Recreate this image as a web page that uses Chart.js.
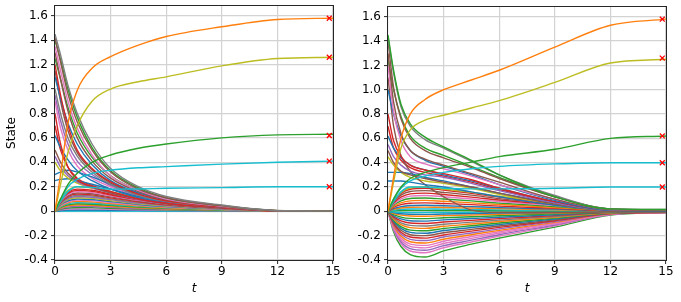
<!DOCTYPE html>
<html>
<head>
<meta charset="utf-8">
<script src="https://cdn.jsdelivr.net/npm/chart.js@4.4.1/dist/chart.umd.min.js"></script>
<style>
  body { margin: 0; background: #fff; }
  #wrap { position: relative; width: 681px; height: 302px; }
  #left { position: absolute; left: 0; top: 0; width: 340px; height: 302px; }
  #right { position: absolute; left: 340px; top: 0; width: 341px; height: 302px; }
</style>
</head>
<body>
<div id="wrap">
  <canvas id="left" width="340" height="302"></canvas>
  <canvas id="right" width="341" height="302"></canvas>
</div>
<script>
// sample times shared by every trajectory
var times = [0, 0.3, 0.7, 1.2, 2, 3, 4.5, 6, 9, 12, 15];
var xTicks = [0, 3, 6, 9, 12, 15];
var yTicks = [-0.4, -0.2, 0, 0.2, 0.4, 0.6, 0.8, 1.0, 1.2, 1.4, 1.6];
var markT = 14.8;
var leftFinal = [1.58, 1.26, 0.62, 0.41, 0.20];
var rightFinal = [1.58, 1.26, 0.62, 0.40, 0.20];

// left panel: the five trajectories that settle away from zero
var leftMain = [
  [0, 0.30, 0.72, 0.99, 1.17, 1.265, 1.36, 1.43, 1.51, 1.57, 1.58],
  [0, 0.22, 0.48, 0.70, 0.90, 1.00, 1.06, 1.10, 1.19, 1.25, 1.26],
  [0, 0.10, 0.22, 0.31, 0.40, 0.46, 0.515, 0.55, 0.60, 0.625, 0.63],
  [0, 0.09, 0.20, 0.26, 0.31, 0.335, 0.355, 0.365, 0.385, 0.40, 0.41],
  [0, 0.08, 0.16, 0.20, 0.195, 0.18, 0.182, 0.187, 0.193, 0.20, 0.20]
];
// left panel: trajectories decaying from a nonzero start
var leftDecay = [
  [1.45, 1.28, 1.03, 0.80, 0.55, 0.35, 0.20, 0.12, 0.05, 0.005, 0],
  [1.42, 1.22, 0.96, 0.73, 0.50, 0.32, 0.18, 0.11, 0.045, 0.004, 0],
  [1.40, 1.24, 1.00, 0.77, 0.52, 0.33, 0.19, 0.11, 0.045, 0.004, 0],
  [1.35, 1.15, 0.90, 0.68, 0.46, 0.29, 0.17, 0.10, 0.04, 0.003, 0],
  [1.30, 1.08, 0.82, 0.60, 0.41, 0.27, 0.16, 0.095, 0.04, 0.003, 0],
  [1.20, 0.95, 0.70, 0.50, 0.35, 0.24, 0.14, 0.085, 0.035, 0.003, 0],
  [1.10, 0.92, 0.72, 0.55, 0.38, 0.25, 0.15, 0.09, 0.035, 0.003, 0],
  [1.00, 0.80, 0.60, 0.45, 0.32, 0.22, 0.13, 0.08, 0.033, 0.003, 0],
  [0.80, 0.55, 0.36, 0.26, 0.20, 0.16, 0.10, 0.065, 0.028, 0.002, 0],
  [0.62, 0.52, 0.42, 0.33, 0.25, 0.18, 0.11, 0.07, 0.03, 0.002, 0],
  [0.50, 0.40, 0.31, 0.25, 0.20, 0.15, 0.10, 0.06, 0.025, 0.002, 0],
  [0.45, 0.36, 0.29, 0.24, 0.19, 0.15, 0.095, 0.06, 0.025, 0.002, 0],
  [0.40, 0.33, 0.27, 0.23, 0.19, 0.15, 0.10, 0.062, 0.025, 0.002, 0],
  [0.30, 0.32, 0.335, 0.32, 0.28, 0.22, 0.15, 0.095, 0.04, 0.003, 0],
  [0.25, 0.26, 0.265, 0.25, 0.22, 0.18, 0.12, 0.08, 0.032, 0.003, 0],
  [1.25, 1.08, 0.85, 0.64, 0.44, 0.29, 0.17, 0.10, 0.04, 0.003, 0],
  [0.90, 0.68, 0.50, 0.37, 0.27, 0.20, 0.12, 0.075, 0.03, 0.002, 0],
  [0.70, 0.50, 0.36, 0.27, 0.21, 0.16, 0.10, 0.065, 0.027, 0.002, 0],
  [1.15, 0.90, 0.66, 0.48, 0.34, 0.23, 0.135, 0.08, 0.033, 0.003, 0],
  [0.95, 0.74, 0.55, 0.41, 0.30, 0.21, 0.125, 0.078, 0.032, 0.002, 0]
];
// left panel: trajectories starting at zero with a small hump
var leftHump = [
  [0, 0.10, 0.17, 0.20, 0.19, 0.16, 0.11, 0.076, 0.034, 0.004, 0],
  [0, 0.09, 0.153, 0.18, 0.171, 0.14, 0.099, 0.068, 0.031, 0.004, 0],
  [0, 0.085, 0.145, 0.17, 0.162, 0.133, 0.094, 0.065, 0.029, 0.003, 0],
  [0, 0.08, 0.136, 0.16, 0.152, 0.125, 0.088, 0.061, 0.027, 0.003, 0],
  [0, 0.075, 0.128, 0.15, 0.143, 0.117, 0.083, 0.057, 0.026, 0.003, 0],
  [0, 0.07, 0.119, 0.14, 0.133, 0.109, 0.077, 0.053, 0.024, 0.003, 0],
  [0, 0.065, 0.11, 0.13, 0.124, 0.101, 0.072, 0.049, 0.022, 0.003, 0],
  [0, 0.06, 0.102, 0.12, 0.114, 0.094, 0.066, 0.046, 0.02, 0.002, 0],
  [0, 0.055, 0.094, 0.11, 0.105, 0.086, 0.061, 0.042, 0.019, 0.002, 0],
  [0, 0.05, 0.085, 0.10, 0.095, 0.078, 0.055, 0.038, 0.017, 0.002, 0],
  [0, 0.045, 0.077, 0.09, 0.086, 0.07, 0.05, 0.034, 0.015, 0.002, 0],
  [0, 0.04, 0.068, 0.08, 0.076, 0.062, 0.044, 0.03, 0.014, 0.002, 0],
  [0, 0.035, 0.06, 0.07, 0.067, 0.055, 0.039, 0.027, 0.012, 0.001, 0],
  [0, 0.03, 0.051, 0.06, 0.057, 0.047, 0.033, 0.023, 0.01, 0.001, 0],
  [0, 0.03, 0.05, 0.06, 0.062, 0.06, 0.055, 0.045, 0.02, 0.002, 0],
  [0, 0.025, 0.043, 0.05, 0.048, 0.039, 0.028, 0.019, 0.009, 0.001, 0],
  [0, 0.02, 0.034, 0.04, 0.038, 0.031, 0.022, 0.015, 0.007, 0.001, 0],
  [0, 0.015, 0.026, 0.03, 0.029, 0.023, 0.017, 0.011, 0.005, 0.001, 0],
  [0, 0.01, 0.017, 0.02, 0.019, 0.016, 0.011, 0.008, 0.003, 0, 0],
  [0, 0.005, 0.009, 0.01, 0.01, 0.008, 0.006, 0.004, 0.002, 0, 0],
  [0, 0.002, 0.003, 0.004, 0.004, 0.003, 0.002, 0.002, 0.001, 0, 0],
  [0, 0, 0.001, 0.001, 0.001, 0.001, 0.001, 0, 0, 0, 0]
];

// right panel
var rightMain = [
  [0, 0.28, 0.60, 0.80, 0.92, 1.00, 1.08, 1.16, 1.35, 1.53, 1.58],
  [0, 0.24, 0.52, 0.67, 0.75, 0.79, 0.85, 0.91, 1.06, 1.22, 1.25],
  [0, 0.10, 0.20, 0.27, 0.32, 0.36, 0.405, 0.45, 0.51, 0.60, 0.62],
  [0, 0.10, 0.19, 0.25, 0.29, 0.32, 0.35, 0.37, 0.39, 0.40, 0.40],
  [0, 0.08, 0.16, 0.20, 0.20, 0.19, 0.185, 0.185, 0.19, 0.20, 0.20]
];
var rightDecay = [
  [1.45, 1.16, 0.88, 0.72, 0.61, 0.53, 0.42, 0.30, 0.12, 0.02, 0.015],
  [1.43, 1.14, 0.86, 0.70, 0.59, 0.52, 0.41, 0.30, 0.13, 0.02, 0.015],
  [1.40, 1.02, 0.76, 0.60, 0.50, 0.44, 0.36, 0.27, 0.12, 0.02, 0.012],
  [1.30, 0.90, 0.64, 0.50, 0.43, 0.38, 0.31, 0.24, 0.10, 0.015, 0.01],
  [1.20, 0.82, 0.58, 0.45, 0.39, 0.35, 0.29, 0.22, 0.10, 0.015, 0.01],
  [1.25, 1.00, 0.78, 0.62, 0.52, 0.46, 0.37, 0.28, 0.12, 0.02, 0.012],
  [1.00, 0.80, 0.62, 0.50, 0.42, 0.37, 0.30, 0.22, 0.09, 0.01, 0.008],
  [0.80, 0.58, 0.45, 0.38, 0.34, 0.31, 0.26, 0.19, 0.08, 0.01, 0.008],
  [0.62, 0.52, 0.44, 0.38, 0.34, 0.30, 0.25, 0.19, 0.08, 0.01, 0.008],
  [0.55, 0.45, 0.38, 0.33, 0.30, 0.28, 0.23, 0.17, 0.07, 0.01, 0.008],
  [0.50, 0.40, 0.33, 0.30, 0.27, 0.24, 0.20, 0.15, 0.06, 0.008, 0.006],
  [0.32, 0.32, 0.32, 0.31, 0.28, 0.25, 0.20, 0.15, 0.07, 0.01, 0.006],
  [0.25, 0.25, 0.25, 0.24, 0.22, 0.20, 0.16, 0.12, 0.05, 0.008, 0.005],
  [1.10, 0.70, 0.46, 0.33, 0.22, 0.12, 0.01, -0.01, -0.01, -0.004, -0.003],
  [0.70, 0.52, 0.42, 0.36, 0.32, 0.29, 0.24, 0.18, 0.075, 0.01, 0.006],
  [0.45, 0.38, 0.32, 0.28, 0.25, 0.23, 0.19, 0.14, 0.06, 0.008, 0.005]
];
var rightUp = [
  [0, 0.09, 0.156, 0.192, 0.20, 0.184, 0.156, 0.124, 0.072, 0.016, 0.006],
  [0, 0.086, 0.148, 0.182, 0.19, 0.175, 0.148, 0.118, 0.068, 0.015, 0.006],
  [0, 0.077, 0.133, 0.163, 0.17, 0.156, 0.133, 0.105, 0.061, 0.014, 0.005],
  [0, 0.068, 0.117, 0.144, 0.15, 0.138, 0.117, 0.093, 0.054, 0.012, 0.005],
  [0, 0.059, 0.101, 0.125, 0.13, 0.12, 0.101, 0.081, 0.047, 0.01, 0.004],
  [0, 0.05, 0.086, 0.106, 0.11, 0.101, 0.086, 0.068, 0.04, 0.009, 0.003],
  [0, 0.041, 0.07, 0.086, 0.09, 0.083, 0.07, 0.056, 0.032, 0.007, 0.003],
  [0, 0.032, 0.055, 0.067, 0.07, 0.064, 0.055, 0.043, 0.025, 0.006, 0.002],
  [0, 0.023, 0.039, 0.048, 0.05, 0.046, 0.039, 0.031, 0.018, 0.004, 0.002],
  [0, 0.016, 0.027, 0.034, 0.035, 0.032, 0.027, 0.022, 0.013, 0.003, 0.001],
  [0, 0.009, 0.016, 0.019, 0.02, 0.018, 0.016, 0.012, 0.007, 0.002, 0.001],
  [0, 0.004, 0.006, 0.008, 0.008, 0.007, 0.006, 0.005, 0.003, 0.001, 0]
];
var rightDown = [
  [0, -0.005, -0.008, -0.01, -0.01, -0.009, -0.007, -0.006, -0.004, -0.001, 0],
  [0, -0.011, -0.02, -0.024, -0.025, -0.022, -0.019, -0.015, -0.009, -0.002, -0.001],
  [0, -0.018, -0.031, -0.038, -0.04, -0.035, -0.03, -0.024, -0.014, -0.003, -0.001],
  [0, -0.027, -0.047, -0.058, -0.06, -0.053, -0.044, -0.036, -0.021, -0.005, -0.002],
  [0, -0.036, -0.062, -0.077, -0.08, -0.07, -0.059, -0.048, -0.028, -0.006, -0.002],
  [0, -0.045, -0.078, -0.096, -0.10, -0.088, -0.074, -0.06, -0.035, -0.008, -0.003],
  [0, -0.054, -0.094, -0.115, -0.12, -0.106, -0.089, -0.072, -0.042, -0.01, -0.004],
  [0, -0.063, -0.109, -0.134, -0.14, -0.123, -0.104, -0.084, -0.049, -0.011, -0.004],
  [0, -0.072, -0.125, -0.154, -0.16, -0.141, -0.118, -0.096, -0.056, -0.013, -0.005],
  [0, -0.081, -0.14, -0.173, -0.18, -0.158, -0.133, -0.108, -0.063, -0.014, -0.005],
  [0, -0.09, -0.156, -0.192, -0.20, -0.176, -0.148, -0.12, -0.07, -0.016, -0.006],
  [0, -0.099, -0.172, -0.211, -0.22, -0.194, -0.163, -0.132, -0.077, -0.018, -0.007],
  [0, -0.108, -0.187, -0.23, -0.24, -0.211, -0.178, -0.144, -0.084, -0.019, -0.007],
  [0, -0.117, -0.203, -0.25, -0.26, -0.229, -0.192, -0.156, -0.091, -0.021, -0.008],
  [0, -0.126, -0.218, -0.269, -0.28, -0.246, -0.207, -0.168, -0.098, -0.022, -0.008],
  [0, -0.135, -0.234, -0.288, -0.30, -0.264, -0.222, -0.18, -0.105, -0.024, -0.009],
  [0, -0.144, -0.25, -0.307, -0.32, -0.282, -0.237, -0.192, -0.112, -0.026, -0.01],
  [0, -0.153, -0.265, -0.326, -0.34, -0.299, -0.252, -0.204, -0.119, -0.027, -0.01],
  [0, -0.167, -0.289, -0.355, -0.375, -0.325, -0.27, -0.22, -0.13, -0.03, -0.011]
];

// matplotlib tab10 colours
var C = {
  blue: '#1f77b4', orange: '#ff7f0e', green: '#2ca02c', red: '#d62728', purple: '#9467bd',
  brown: '#8c564b', pink: '#e377c2', gray: '#7f7f7f', olive: '#bcbd22', cyan: '#17becf'
};
var mainColors = [C.orange, C.olive, C.green, C.cyan, C.cyan];
var leftDecayColors = ['gray', 'brown', 'green', 'pink', 'brown', 'red', 'blue', 'gray', 'red', 'blue',
  'brown', 'purple', 'olive', 'blue', 'blue', 'green', 'pink', 'red', 'brown', 'purple'];
var leftHumpColors = ['olive', 'red', 'red', 'pink', 'brown', 'red', 'gray', 'purple', 'olive', 'blue',
  'pink', 'orange', 'cyan', 'green', 'orange', 'orange', 'purple', 'green', 'pink', 'blue', 'cyan', 'cyan'];
var rightDecayColors = ['green', 'gray', 'brown', 'brown', 'pink', 'green', 'blue', 'red', 'blue', 'purple',
  'brown', 'blue', 'blue', 'brown', 'red', 'olive'];
var rightUpColors = ['olive', 'red', 'brown', 'red', 'pink', 'green', 'orange', 'red', 'blue', 'orange', 'cyan', 'green'];
var rightDownColors = ['cyan', 'blue', 'orange', 'green', 'blue', 'red', 'gray', 'orange', 'green', 'blue',
  'brown', 'red', 'purple', 'orange', 'pink', 'pink', 'purple', 'pink', 'green'];

function line(vals, color) {
  return {
    data: vals.map(function (v, i) { return { x: times[i], y: v }; }),
    borderColor: color,
    borderWidth: 1.4,
    pointRadius: 0,
    cubicInterpolationMode: 'monotone',
    fill: false
  };
}

function markers(finals) {
  return {
    data: finals.map(function (v) { return { x: markT, y: v }; }),
    showLine: false,
    pointStyle: 'crossRot',
    pointRadius: 3.5,
    borderColor: 'red',
    borderWidth: 1.3
  };
}

function buildSets(finals, main, groups) {
  var sets = [markers(finals)];
  main.forEach(function (v, i) { sets.push(line(v, mainColors[i])); });
  groups.forEach(function (g) {
    g[0].forEach(function (v, i) { sets.push(line(v, C[g[1][i]])); });
  });
  return sets;
}

var frame = {
  id: 'frame',
  afterDatasetsDraw: function (chart) {
    var a = chart.chartArea, ctx = chart.ctx;
    ctx.save();
    ctx.strokeStyle = '#262626';
    ctx.lineWidth = 1;
    ctx.strokeRect(Math.round(a.left) - 0.5, Math.round(a.top) - 0.5, Math.round(a.width) + 1, Math.round(a.height) + 1);
    ctx.restore();
  }
};

function options(yWidth, pad, showTitle) {
  var font = { family: 'DejaVu Sans', size: 12 };
  return {
    responsive: false,
    animation: false,
    events: [],
    layout: { padding: pad },
    plugins: { legend: { display: false }, tooltip: { enabled: false } },
    scales: {
      x: {
        type: 'linear', min: 0, max: 15,
        afterBuildTicks: function (s) { s.ticks = xTicks.map(function (v) { return { value: v }; }); },
        afterFit: function (s) { s.height = 42; s.paddingLeft = 0; s.paddingRight = 0; },
        grid: { color: '#d3d3d3', lineWidth: 1.2, tickColor: '#262626', tickLength: 4, tickWidth: 1 },
        border: { display: false },
        ticks: { color: '#000', font: font, padding: 1, maxRotation: 0, callback: function (v) { return String(v); } },
        title: { display: true, text: 't', color: '#000', font: { family: 'DejaVu Sans', size: 12, style: 'italic' }, padding: { top: 0, bottom: 6 } }
      },
      y: {
        type: 'linear', min: -0.4, max: 1.68,
        afterBuildTicks: function (s) { s.ticks = yTicks.map(function (v) { return { value: v }; }); },
        afterFit: function (s) { s.width = yWidth; s.paddingTop = 0; s.paddingBottom = 0; },
        grid: { color: '#d3d3d3', lineWidth: 1.2, tickColor: '#262626', tickLength: 4, tickWidth: 1 },
        border: { display: false },
        ticks: { color: '#000', font: font, padding: 3, callback: function (v) { return v === 0 ? '0' : v.toFixed(1); } },
        title: { display: showTitle, text: 'State', color: '#000', font: { family: 'DejaVu Sans', size: 12 }, padding: { top: 5, bottom: 0 } }
      }
    }
  };
}

new Chart(document.getElementById('left'), {
  type: 'line',
  data: { datasets: buildSets(leftFinal, leftMain, [[leftDecay, leftDecayColors], [leftHump, leftHumpColors]]) },
  options: options(55, { top: 6, right: 7, left: 0, bottom: 0 }, true),
  plugins: [frame]
});

new Chart(document.getElementById('right'), {
  type: 'line',
  data: { datasets: buildSets(rightFinal, rightMain, [[rightDecay, rightDecayColors], [rightUp, rightUpColors], [rightDown, rightDownColors]]) },
  options: options(48, { top: 7, right: 15, left: 0, bottom: 0 }, false),
  plugins: [frame]
});
</script>
</body>
</html>
